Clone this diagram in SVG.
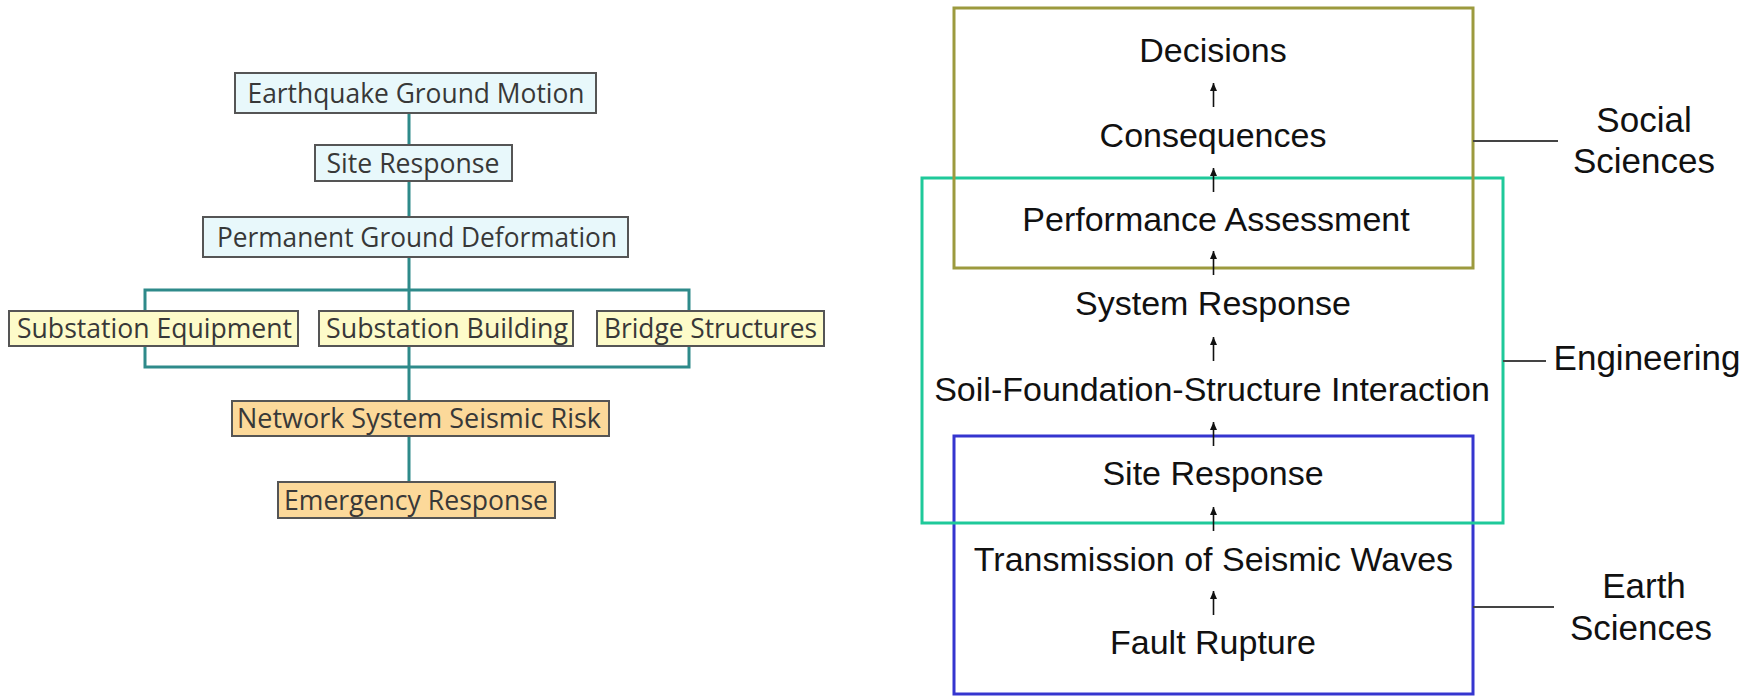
<svg xmlns="http://www.w3.org/2000/svg" width="1758" height="696" viewBox="0 0 1758 696">
  <defs>
    <marker id="head" markerUnits="userSpaceOnUse" markerWidth="8" markerHeight="7" refX="8" refY="3.5" orient="auto">
      <path d="M0,0 L8,3.5 L0,7 z" fill="#111"/>
    </marker>
    <style>
      .box { stroke: #555; stroke-width: 2; }
      .sky { fill: #e8f8fb; }
      .cream { fill: #fdfbc9; }
      .peach { fill: #fcd99a; }
      .lt { font-family: "Open Sans", "DejaVu Sans", sans-serif; font-size: 28px; fill: #383838; text-anchor: middle; }
      .wire { stroke: #2e8a8a; stroke-width: 3; fill: none; }
      .rt { font-family: "Liberation Sans", Arial, sans-serif; font-size: 34px; fill: #111; text-anchor: middle; }
      .lab { font-family: "Liberation Sans", Arial, sans-serif; font-size: 35px; fill: #111; text-anchor: middle; }
      .arrow { stroke: #111; stroke-width: 1.6; fill: none; marker-end: url(#head); }
      .tick { stroke: #444; stroke-width: 2; }
    </style>
  </defs>
  <rect width="1758" height="696" fill="#fff"/>

  <!-- Left: hazard chain tree -->
  <g id="tree-connectors">
    <line class="wire" x1="409" y1="113" x2="409" y2="482"/>
    <rect class="wire" x="145" y="290" width="544" height="77"/>
  </g>

  <g id="earthquake-ground-motion">
    <rect class="box sky" x="235" y="73" width="361" height="40"/>
    <text class="lt" x="416" y="103" textLength="337" lengthAdjust="spacingAndGlyphs">Earthquake Ground Motion</text>
  </g>
  <g id="site-response-left">
    <rect class="box sky" x="315" y="145" width="197" height="36"/>
    <text class="lt" x="413" y="173" textLength="173" lengthAdjust="spacingAndGlyphs">Site Response</text>
  </g>
  <g id="permanent-ground-deformation">
    <rect class="box sky" x="203" y="217" width="425" height="40"/>
    <text class="lt" x="417" y="247" textLength="400" lengthAdjust="spacingAndGlyphs">Permanent Ground Deformation</text>
  </g>
  <g id="substation-equipment">
    <rect class="box cream" x="9" y="311" width="289" height="35"/>
    <text class="lt" x="154.5" y="338" textLength="275" lengthAdjust="spacingAndGlyphs">Substation Equipment</text>
  </g>
  <g id="substation-building">
    <rect class="box cream" x="319" y="311" width="254" height="35"/>
    <text class="lt" x="447" y="338" textLength="242" lengthAdjust="spacingAndGlyphs">Substation Building</text>
  </g>
  <g id="bridge-structures">
    <rect class="box cream" x="597" y="311" width="227" height="35"/>
    <text class="lt" x="710.5" y="338" textLength="213" lengthAdjust="spacingAndGlyphs">Bridge Structures</text>
  </g>
  <g id="network-system-seismic-risk">
    <rect class="box peach" x="232" y="401" width="377" height="35"/>
    <text class="lt" x="419" y="428" textLength="364" lengthAdjust="spacingAndGlyphs">Network System Seismic Risk</text>
  </g>
  <g id="emergency-response">
    <rect class="box peach" x="278" y="482" width="277" height="36"/>
    <text class="lt" x="416" y="510" textLength="264" lengthAdjust="spacingAndGlyphs">Emergency Response</text>
  </g>

  <!-- Right: discipline bands -->
  <g id="earth-sciences">
    <rect x="954" y="436" width="519" height="258" fill="none" stroke="#3535cf" stroke-width="3"/>
    <line class="tick" x1="1473" y1="607" x2="1554" y2="607"/>
    <text class="lab" x="1644" y="598">Earth</text>
    <text class="lab" x="1641" y="640">Sciences</text>
  </g>
  <g id="engineering">
    <rect x="922" y="178" width="581" height="345" fill="none" stroke="#1fc99a" stroke-width="3"/>
    <line class="tick" x1="1503" y1="361" x2="1546" y2="361"/>
    <text class="lab" x="1647" y="370">Engineering</text>
  </g>
  <g id="social-sciences">
    <rect x="954" y="8" width="519" height="260" fill="none" stroke="#9c9a3e" stroke-width="3"/>
    <line class="tick" x1="1473" y1="141" x2="1558" y2="141"/>
    <text class="lab" x="1644" y="132">Social</text>
    <text class="lab" x="1644" y="173">Sciences</text>
  </g>

  <g id="chain-connectors">
    <line class="arrow" x1="1213.5" y1="107" x2="1213.5" y2="83"/>
    <line class="arrow" x1="1213.5" y1="192" x2="1213.5" y2="168"/>
    <line class="arrow" x1="1213.5" y1="275" x2="1213.5" y2="251"/>
    <line class="arrow" x1="1213.5" y1="361" x2="1213.5" y2="337"/>
    <line class="arrow" x1="1213.5" y1="446" x2="1213.5" y2="422"/>
    <line class="arrow" x1="1213.5" y1="531" x2="1213.5" y2="507"/>
    <line class="arrow" x1="1213.5" y1="615" x2="1213.5" y2="591"/>
  </g>

  <g id="decisions"><text class="rt" x="1213" y="62">Decisions</text></g>
  <g id="consequences"><text class="rt" x="1213" y="147">Consequences</text></g>
  <g id="performance-assessment"><text class="rt" x="1216" y="231">Performance Assessment</text></g>
  <g id="system-response"><text class="rt" x="1213" y="315">System Response</text></g>
  <g id="soil-foundation-structure-interaction"><text class="rt" x="1212" y="401">Soil-Foundation-Structure Interaction</text></g>
  <g id="site-response"><text class="rt" x="1213" y="485">Site Response</text></g>
  <g id="transmission-of-seismic-waves"><text class="rt" x="1213.5" y="571">Transmission of Seismic Waves</text></g>
  <g id="fault-rupture"><text class="rt" x="1213" y="654">Fault Rupture</text></g>
</svg>
